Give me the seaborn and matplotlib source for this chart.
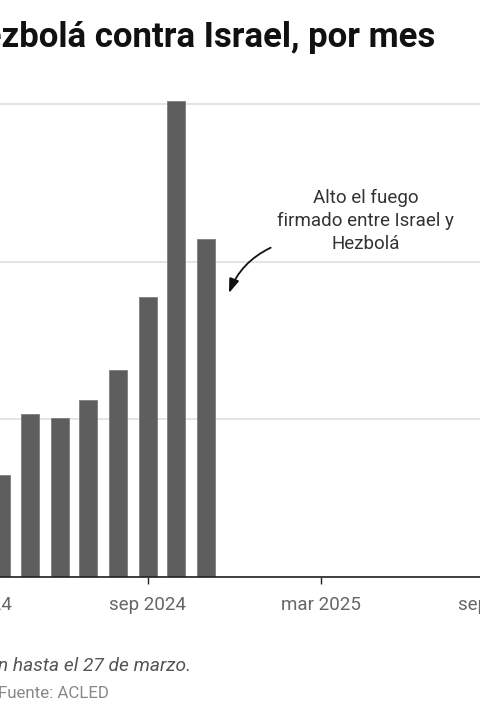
import matplotlib
matplotlib.use("Agg")
import matplotlib.pyplot as plt
import matplotlib.dates as mdates
import seaborn as sns
import pandas as pd
import datetime as dt

# 数据
months = ["2024-04-01", "2024-05-01", "2024-06-01", "2024-07-01",
          "2024-08-01", "2024-09-01", "2024-10-01", "2024-11-01"]
attacks = [129, 207, 201, 225, 262, 355, 603, 428]
tick_dates = ["2024-03-01", "2024-09-01", "2025-03-01", "2025-09-01"]
tick_labels = ["mar 2024", "sep 2024", "mar 2025", "sep 2025"]

title = "Ataques de Hezbolá contra Israel, por mes"
note = "Información hasta el 27 de marzo."
source = "Fuente: ACLED"
label = "Alto el fuego\nfirmado entre Israel y\nHezbolá"

sns.set_theme(style="white")
plt.rcParams['font.family'] = ['Roboto', 'DejaVu Sans']

df = pd.DataFrame({'mes': pd.to_datetime(months), 'ataques': attacks})
df['x'] = mdates.date2num(df['mes'])

fig = plt.figure(figsize=(4.8, 7.2), dpi=100)
# eje más ancho que la figura (recorte): de -60 px a 540 px
ax = fig.add_axes([-60 / 480, 143 / 720, 600 / 480, 489 / 720])

sns.barplot(data=df, x='x', y='ataques', native_scale=True, width=0.63,
            color='#5e5e5e', edgecolor='#7d7d7d', linewidth=0.6,
            saturation=1, ax=ax)

ax.set_xticks(mdates.date2num(pd.to_datetime(tick_dates)))
ax.set_xticklabels(tick_labels)
sep = mdates.date2num(dt.date(2024, 9, 1))
ax.set_xlim(sep - 217.3, sep + 410.4)
ax.set_ylim(0, 620)
ax.set_yticks([0, 200, 400, 600])
ax.yaxis.grid(True, color='#e4e4e4', linewidth=1.4)
ax.set_axisbelow(True)

ax.tick_params(axis='x', bottom=True, length=5, width=1, color='#222',
               labelsize=13.5, labelcolor='#666', pad=9)
ax.tick_params(axis='y', left=False, labelleft=False)
ax.set_xlabel('')
ax.set_ylabel('')
for s in ['top', 'right', 'left']:
    ax.spines[s].set_visible(False)
ax.spines['bottom'].set_color('#222')
ax.spines['bottom'].set_linewidth(1.2)

# anotación del alto el fuego
ax.annotate('', xy=(mdates.date2num(dt.date(2024, 11, 25)), 360),
            xytext=(270.7, 720 - 247.7), textcoords='figure pixels',
            arrowprops=dict(arrowstyle='-|>,head_length=0.7,head_width=0.25',
                            color='#111', lw=1.3, shrinkA=0, shrinkB=0,
                            connectionstyle='arc3,rad=0.2'))
fig.text(365.7 / 480, 1 - 189 / 720, label, ha='center', va='top',
         fontsize=13.5, color='#333', linespacing=1.34)

fig.text(435 / 480, 1 - 47.5 / 720, title, ha='right', va='baseline',
         fontsize=25, fontweight='bold', color='#111')
fig.text(191 / 480, 1 - 671 / 720, note, ha='right', va='baseline',
         fontsize=13.8, style='italic', color='#555')
fig.text(-2 / 480, 1 - 698 / 720, source, ha='left', va='baseline',
         fontsize=12.2, color='#888')

fig.savefig('out.png', dpi=100)
